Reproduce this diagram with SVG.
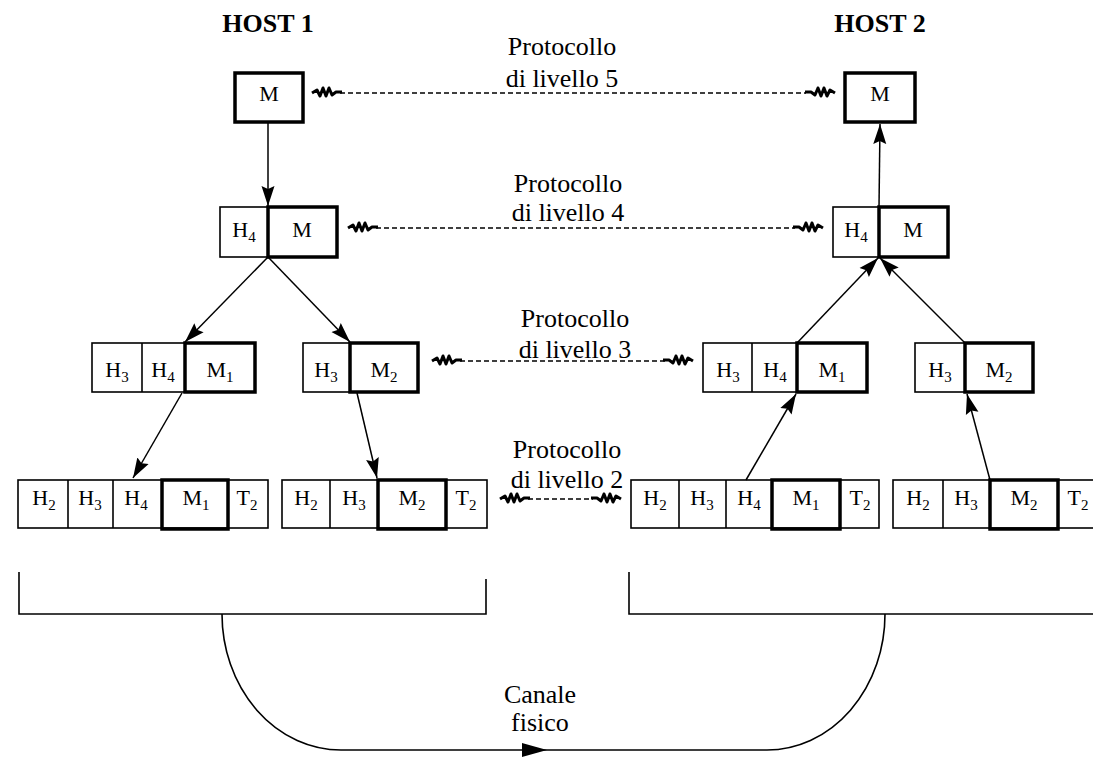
<svg xmlns="http://www.w3.org/2000/svg" width="1093" height="758" viewBox="0 0 1093 758">
<style>
.cell{fill:#fff;stroke:#000;stroke-width:1.6}
.thk{fill:none;stroke:#000;stroke-width:3.5}
.lbl{font-family:"Liberation Serif",serif;font-size:22px;text-anchor:middle;fill:#000}
.sub{font-size:15px}
.proto{font-family:"Liberation Serif",serif;font-size:26px;text-anchor:middle;fill:#000}
.host{font-family:"Liberation Serif",serif;font-size:26px;font-weight:bold;text-anchor:middle;fill:#000}
.dash{stroke:#000;stroke-width:1.5;stroke-dasharray:5 3;fill:none}
.arr{stroke:#000;stroke-width:1.5;fill:none;marker-end:url(#ah)}
.sq{fill:none;stroke:#000;stroke-width:3;stroke-linejoin:round}
.line{fill:none;stroke:#000;stroke-width:1.6}
</style>
<defs>
<marker id="ah" markerUnits="userSpaceOnUse" markerWidth="22" markerHeight="14" refX="20" refY="7" orient="auto">
<path d="M0,0.5 L20,7 L0,13.5 L3,7 Z" fill="#000"/>
</marker>
<path id="sq" class="sq" d="M0,0 l5,-3 l3,6 l3,-8 l3,8 l3,-8 l3,7 l4,-3 l6,0"/>
</defs>

<text class="host" x="268" y="32">HOST 1</text>
<text class="host" x="880" y="32">HOST 2</text>

<!-- Host 1 -->
<g id="h1-l5">
<rect class="thk" x="235" y="73" width="68" height="49"/>
<text class="lbl" x="269" y="101">M</text>
</g>
<g id="h1-l4">
<rect class="cell" x="220" y="207" width="117" height="50"/>
<rect class="thk" x="268" y="207" width="69" height="50"/>
<text class="lbl" x="244" y="237">H<tspan class="sub" dy="5">4</tspan></text>
<text class="lbl" x="302" y="237">M</text>
</g>
<g id="h1-l3a">
<rect class="cell" x="92" y="343" width="163" height="49"/>
<line class="line" x1="142" y1="343" x2="142" y2="392"/>
<rect class="thk" x="185" y="343" width="70" height="49"/>
<text class="lbl" x="117" y="377">H<tspan class="sub" dy="5">3</tspan></text>
<text class="lbl" x="163" y="377">H<tspan class="sub" dy="5">4</tspan></text>
<text class="lbl" x="220" y="377">M<tspan class="sub" dy="5">1</tspan></text>
</g>
<g id="h1-l3b">
<rect class="cell" x="303" y="343" width="115" height="49"/>
<rect class="thk" x="350" y="343" width="68" height="49"/>
<text class="lbl" x="326" y="377">H<tspan class="sub" dy="5">3</tspan></text>
<text class="lbl" x="384" y="377">M<tspan class="sub" dy="5">2</tspan></text>
</g>
<g id="h1-l2a">
<rect class="cell" x="18" y="480" width="250" height="48"/>
<line class="line" x1="68" y1="480" x2="68" y2="528"/>
<line class="line" x1="113" y1="480" x2="113" y2="528"/>
<rect class="thk" x="162" y="480" width="66" height="49"/>
<text class="lbl" x="44" y="505">H<tspan class="sub" dy="5">2</tspan></text>
<text class="lbl" x="90" y="505">H<tspan class="sub" dy="5">3</tspan></text>
<text class="lbl" x="136" y="505">H<tspan class="sub" dy="5">4</tspan></text>
<text class="lbl" x="196" y="505">M<tspan class="sub" dy="5">1</tspan></text>
<text class="lbl" x="247" y="505">T<tspan class="sub" dy="5">2</tspan></text>
</g>
<g id="h1-l2b">
<rect class="cell" x="282" y="480" width="205" height="48"/>
<line class="line" x1="330" y1="480" x2="330" y2="528"/>
<rect class="thk" x="378" y="480" width="68" height="49"/>
<text class="lbl" x="306" y="505">H<tspan class="sub" dy="5">2</tspan></text>
<text class="lbl" x="354" y="505">H<tspan class="sub" dy="5">3</tspan></text>
<text class="lbl" x="412" y="505">M<tspan class="sub" dy="5">2</tspan></text>
<text class="lbl" x="466" y="505">T<tspan class="sub" dy="5">2</tspan></text>
</g>

<!-- Host 2 -->
<g id="h2-l5">
<rect class="thk" x="845" y="73" width="70" height="49"/>
<text class="lbl" x="880" y="101">M</text>
</g>
<g id="h2-l4">
<rect class="cell" x="833" y="207" width="115" height="50"/>
<rect class="thk" x="879" y="207" width="69" height="50"/>
<text class="lbl" x="856" y="237">H<tspan class="sub" dy="5">4</tspan></text>
<text class="lbl" x="913" y="237">M</text>
</g>
<g id="h2-l3a">
<rect class="cell" x="703" y="343" width="164" height="49"/>
<line class="line" x1="752" y1="343" x2="752" y2="392"/>
<rect class="thk" x="797" y="343" width="70" height="49"/>
<text class="lbl" x="728" y="377">H<tspan class="sub" dy="5">3</tspan></text>
<text class="lbl" x="775" y="377">H<tspan class="sub" dy="5">4</tspan></text>
<text class="lbl" x="832" y="377">M<tspan class="sub" dy="5">1</tspan></text>
</g>
<g id="h2-l3b">
<rect class="cell" x="915" y="343" width="118" height="49"/>
<rect class="thk" x="965" y="343" width="68" height="49"/>
<text class="lbl" x="940" y="377">H<tspan class="sub" dy="5">3</tspan></text>
<text class="lbl" x="999" y="377">M<tspan class="sub" dy="5">2</tspan></text>
</g>
<g id="h2-l2a">
<rect class="cell" x="631" y="480" width="248" height="48"/>
<line class="line" x1="679" y1="480" x2="679" y2="528"/>
<line class="line" x1="726" y1="480" x2="726" y2="528"/>
<rect class="thk" x="772" y="480" width="68" height="49"/>
<text class="lbl" x="655" y="505">H<tspan class="sub" dy="5">2</tspan></text>
<text class="lbl" x="702" y="505">H<tspan class="sub" dy="5">3</tspan></text>
<text class="lbl" x="749" y="505">H<tspan class="sub" dy="5">4</tspan></text>
<text class="lbl" x="806" y="505">M<tspan class="sub" dy="5">1</tspan></text>
<text class="lbl" x="860" y="505">T<tspan class="sub" dy="5">2</tspan></text>
</g>
<g id="h2-l2b">
<rect class="cell" x="893" y="480" width="210" height="48"/>
<line class="line" x1="943" y1="480" x2="943" y2="528"/>
<rect class="thk" x="990" y="480" width="68" height="49"/>
<text class="lbl" x="918" y="505">H<tspan class="sub" dy="5">2</tspan></text>
<text class="lbl" x="966" y="505">H<tspan class="sub" dy="5">3</tspan></text>
<text class="lbl" x="1024" y="505">M<tspan class="sub" dy="5">2</tspan></text>
<text class="lbl" x="1078" y="505">T<tspan class="sub" dy="5">2</tspan></text>
</g>

<!-- Brackets and physical channel -->
<g id="medium">
<path class="line" d="M19,572 V614 H486 V579"/>
<path class="line" d="M629,572 V614 H1093"/>
<path class="line" d="M222,614 A119,136 0 0 0 341,750 H767 A118,136 0 0 0 885,614"/>
<path d="M522,743 L547,750 L522,757 Z" fill="#000"/>
<text class="proto" x="540" y="703">Canale</text>
<text class="proto" x="540" y="731">fisico</text>
</g>

<!-- Connectors -->
<g id="connectors">
<line class="arr" x1="268" y1="123" x2="268" y2="206"/>
<line class="arr" x1="268" y1="257" x2="185" y2="342"/>
<line class="arr" x1="268" y1="257" x2="350" y2="342"/>
<line class="arr" x1="182" y1="393" x2="133" y2="478"/>
<line class="arr" x1="357" y1="393" x2="377" y2="478"/>
<line class="arr" x1="746" y1="480" x2="796" y2="394"/>
<line class="arr" x1="990" y1="480" x2="967" y2="394"/>
<line class="arr" x1="797" y1="343" x2="878" y2="258"/>
<line class="arr" x1="965" y1="343" x2="880" y2="258"/>
<line class="arr" x1="879" y1="207" x2="880" y2="124"/>

<line class="dash" x1="340" y1="93" x2="806" y2="93"/>
<use href="#sq" transform="translate(312,93)"/>
<use href="#sq" transform="translate(835,93) scale(-1,1)"/>
<line class="dash" x1="376" y1="228" x2="795" y2="228"/>
<use href="#sq" transform="translate(348,228)"/>
<use href="#sq" transform="translate(823,228) scale(-1,1)"/>
<line class="dash" x1="460" y1="361" x2="665" y2="361"/>
<use href="#sq" transform="translate(432,361)"/>
<use href="#sq" transform="translate(693,361) scale(-1,1)"/>
<line class="dash" x1="528" y1="499" x2="593" y2="499"/>
<use href="#sq" transform="translate(500,499)"/>
<use href="#sq" transform="translate(621,499) scale(-1,1)"/>
</g>

<g id="labels">
<text class="proto" x="562" y="55">Protocollo</text>
<text class="proto" x="562" y="87">di livello 5</text>
<text class="proto" x="568" y="192">Protocollo</text>
<text class="proto" x="568" y="221">di livello 4</text>
<text class="proto" x="575" y="327">Protocollo</text>
<text class="proto" x="575" y="358">di livello 3</text>
<text class="proto" x="567" y="458">Protocollo</text>
<text class="proto" x="567" y="488">di livello 2</text>
</g>
</svg>
